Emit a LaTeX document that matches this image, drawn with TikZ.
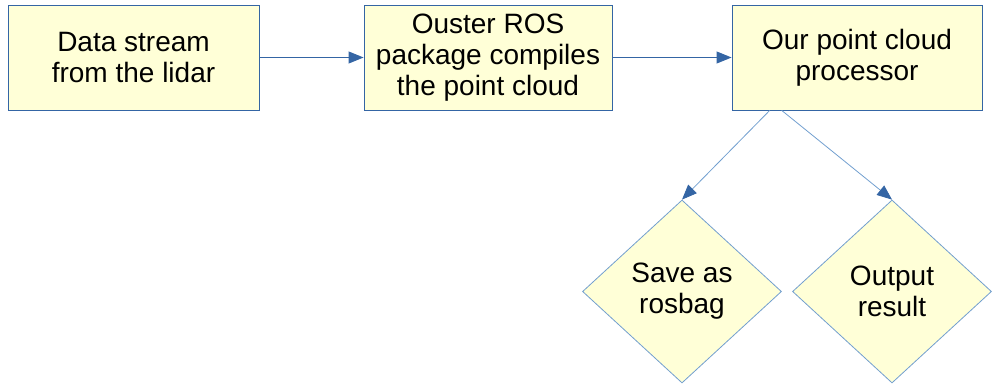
\documentclass[tikz,border=0pt]{standalone}
\usepackage{fontspec}
\setmainfont{Liberation Sans}
\usepackage{xcolor}
\usetikzlibrary{shapes.geometric,arrows.meta,calc}
\definecolor{boxfill}{HTML}{FFFFD7}
\definecolor{boxline}{HTML}{3465A4}
\definecolor{diamline}{HTML}{729FCF}

\begin{document}
\begin{tikzpicture}[x=1pt,y=-1pt,
    stage/.style={draw=boxline,line width=0.9pt,fill=boxfill,rectangle,
        minimum height=105pt,align=center,font=\fontsize{28}{31}\selectfont},
    choice/.style={draw=diamline,line width=0.8pt,fill=boxfill,diamond,
        inner sep=0pt,minimum width=199pt,minimum height=183pt,
        align=center,font=\fontsize{28}{31}\selectfont},
    flow/.style={draw=boxline,line width=0.9pt,-{Triangle[length=15pt,width=12pt]}},
    branch/.style={draw=diamline,line width=0.8pt,-{Triangle[length=15pt,width=12pt,color=boxline,fill=boxline]}}]
    \useasboundingbox (0,0) rectangle (992,385);

    % Lidar stream
    \node[stage,minimum width=251pt] (lidar) at (133.5,57.5) {Data stream\\from the lidar};

    % Ouster driver
    \node[stage,minimum width=248pt] (ouster) at (488,57.5) {Ouster ROS\\package compiles\\the point cloud};

    % Our processor
    \node[stage,minimum width=250pt] (proc) at (857,57.5) {Our point cloud\\processor};

    % Outputs
    \node[choice] (bag) at (682,291.5) {Save as\\rosbag};
    \node[choice] (result) at (892,291.5) {Output\\result};

    % Connectors
    \coordinate (procA) at ($(proc.south west)!0.152!(proc.south east)$);
    \coordinate (procB) at ($(proc.south west)!0.2!(proc.south east)$);
    \draw[flow] (lidar) -- (ouster);
    \draw[flow] (ouster) -- (proc);
    \draw[branch] (procA) -- (bag.north);
    \draw[branch] (procB) -- (result.north);
\end{tikzpicture}
\end{document}
